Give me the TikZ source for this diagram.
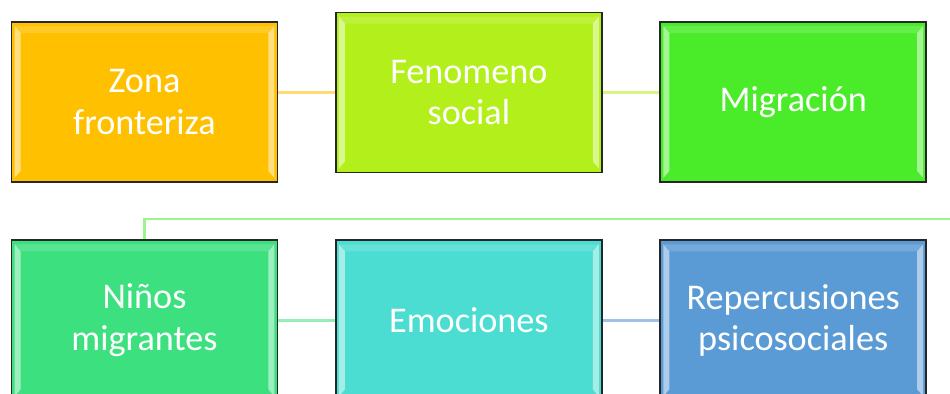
\documentclass[tikz,border=0pt]{standalone}
\usepackage{fontspec}
\setmainfont{Carlito}
\usetikzlibrary{positioning,calc}
\definecolor{zonacol}{HTML}{FFC000}
\definecolor{fenocol}{HTML}{B2EF1B}
\definecolor{migcol}{HTML}{4AEC2A}
\definecolor{ninocol}{HTML}{3DE07F}
\definecolor{emocol}{HTML}{4BDDD1}
\definecolor{repcol}{HTML}{5B9BD5}
\tikzstyle{link}=[draw,line width=1.3pt]
\tikzstyle{bevel}=[path picture={
  \fill[white,opacity=0.5] ($(path picture bounding box.north west)+(3,4)$) -- ($(path picture bounding box.north west)+(9,11)$)
    -- ($(path picture bounding box.south west)+(9,-11)$) -- ($(path picture bounding box.south west)+(3,-4)$) -- cycle;
  \fill[white,opacity=0.5] ($(path picture bounding box.north east)+(-3,4)$) -- ($(path picture bounding box.north east)+(-9,11)$)
    -- ($(path picture bounding box.south east)+(-9,-11)$) -- ($(path picture bounding box.south east)+(-3,-4)$) -- cycle;
  \fill[white,opacity=0.15] ($(path picture bounding box.north west)+(3,4)$) -- ($(path picture bounding box.north east)+(-3,4)$)
    -- ($(path picture bounding box.north east)+(-9,11)$) -- ($(path picture bounding box.north west)+(9,11)$) -- cycle;
}]
\tikzstyle{tbox}=[draw=black!85,line width=1.1pt,bevel,minimum width=5.32cm,minimum height=3.2cm,
  align=center,text=white,font=\fontsize{20.6}{23.6}\selectfont]

\begin{document}
\begin{tikzpicture}[x=0.02cm,y=-0.02cm,node distance=1.13cm]
\useasboundingbox (0,0) rectangle (950,394);
\fill[white] (0,0) rectangle (950,394);
\clip (0,0) rectangle (950,394);
\node [tbox,fill=zonacol] (zona) at (144.5,102) {Zona\\fronteriza};
\node [tbox,fill=fenocol,right=of zona,yshift=0.19cm] (feno) {Fenomeno\\social};
\node [tbox,fill=migcol,right=of feno,yshift=-0.19cm] (mig) {Migración};
\node [tbox,fill=ninocol,below=of zona] (nino) {Niños\\migrantes};
\node [tbox,fill=emocol,right=of nino] (emo) {Emociones};
\node [tbox,fill=repcol,right=of emo] (rep) {Repercusiones\\psicosociales};
\coordinate (wrap) at (950,219);

\draw[link,color=zonacol!55] (zona.east |- feno) -- (feno.west);
\draw[link,color=fenocol!55] (feno.east) -- (mig.west |- feno);
\draw[link,color=migcol!55] (wrap) -| (nino.north);
\draw[link,color=ninocol!55] (nino) -- (emo);
\draw[link,color=repcol!60] (emo) -- (rep);
\end{tikzpicture}
\end{document}
